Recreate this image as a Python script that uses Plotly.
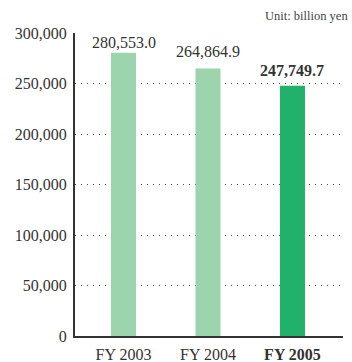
import plotly.graph_objects as go

# Fiscal years and totals (billion yen)
years = ["FY 2003", "FY 2004", "FY 2005"]
totals = [280553.0, 264864.9, 247749.7]
value_labels = ["280,553.0", "264,864.9", "247,749.7"]
y_ticks = [0, 50000, 100000, 150000, 200000, 250000, 300000]
y_tick_labels = ["0", "50,000", "100,000", "150,000", "200,000", "250,000", "300,000"]

# styling: latest year highlighted
bar_colors = ["#9cd4ae", "#9cd4ae", "#22b16a"]
label_shift = [0, 6, 5]
bold_last = [False, False, True]

FONT = "'Liberation Serif', 'Times New Roman', serif"
TEXT = "#333333"

fig = go.Figure()
fig.add_trace(go.Bar(
    x=years,
    y=totals,
    marker=dict(color=bar_colors, line=dict(width=0)),
    width=0.296,
    hoverinfo="skip",
))

for yr, v, lab, sh, b in zip(years, totals, value_labels, label_shift, bold_last):
    fig.add_annotation(
        x=yr, y=v, text=f"<b>{lab}</b>" if b else lab,
        showarrow=False, yanchor="bottom", xanchor="center", yshift=sh,
        font=dict(family=FONT, size=16, color=TEXT),
    )

fig.add_annotation(
    x=1, y=1, xref="paper", yref="paper", xanchor="right", yanchor="bottom",
    text="Unit: billion yen", showarrow=False, yshift=8, xshift=7,
    font=dict(family=FONT, size=12.5, color="#444444"),
)

fig.update_layout(
    template="none",
    width=352, height=362,
    margin=dict(l=75, r=9, t=33, b=26),
    paper_bgcolor="white", plot_bgcolor="white",
    showlegend=False,
    font=dict(family=FONT, size=16, color=TEXT),
    xaxis=dict(
        type="category",
        range=[-0.574, 2.598],
        tickvals=years,
        ticktext=[f"<b>{y}</b>" if b else y for y, b in zip(years, bold_last)],
        showgrid=False, zeroline=False,
        showline=True, linecolor="#333333", linewidth=2,
        ticks="", ticklabelstandoff=3, automargin=False,
        tickfont=dict(family=FONT, size=16, color=TEXT),
    ),
    yaxis=dict(
        range=[0, 300000],
        tickvals=y_ticks, ticktext=y_tick_labels,
        showgrid=True, gridcolor="#444444", gridwidth=1, griddash="1px,5px",
        zeroline=False,
        showline=True, linecolor="#333333", linewidth=2,
        ticks="", ticklabelstandoff=3, automargin=False,
        tickfont=dict(family=FONT, size=16, color=TEXT),
    ),
)

fig.write_html("out.html")
